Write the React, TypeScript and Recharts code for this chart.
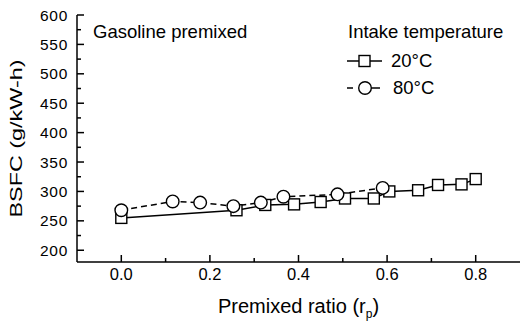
import { LineChart, Line, XAxis, YAxis, Legend, Label } from 'recharts'

// BSFC vs premixed ratio, two intake temperatures
const ratio20 = [0, 0.26, 0.325, 0.39, 0.45, 0.505, 0.57, 0.605, 0.67, 0.715, 0.768, 0.8]
const bsfc20 = [255, 268, 277, 278, 282, 288, 288, 300, 302, 311, 312, 321]
const ratio80 = [0, 0.116, 0.178, 0.253, 0.315, 0.366, 0.488, 0.59]
const bsfc80 = [268, 283, 281, 275, 281, 291, 295, 306]

const xTicks = [0, 0.1, 0.2, 0.3, 0.4, 0.5, 0.6, 0.7, 0.8]
const xLabels = [0, 0.2, 0.4, 0.6, 0.8]
const yTicks = [200, 225, 250, 275, 300, 325, 350, 375, 400, 425, 450, 475, 500, 525, 550, 575, 600]
const yLabels = [200, 250, 300, 350, 400, 450, 500, 550, 600]

const data20 = ratio20.map((r, i) => ({ r, bsfc: bsfc20[i] }))
const data80 = ratio80.map((r, i) => ({ r, bsfc: bsfc80[i] }))

const FONT = 'Liberation Sans, Arial, sans-serif'

function XTick({ x, y, payload }: any) {
  const major = xLabels.includes(payload.value)
  return (
    <g>
      <line x1={x} x2={x} y1={y} y2={y - (major ? 7 : 4)} stroke="#000" strokeWidth={1.5} />
      {major && (
        <text x={x} y={y + 18} textAnchor="middle" fontSize={16.5} fontFamily={FONT} fill="#000">
          {payload.value.toFixed(1)}
        </text>
      )}
    </g>
  )
}

function YTick({ x, y, payload }: any) {
  const major = yLabels.includes(payload.value)
  return (
    <g>
      <line x1={x} x2={x + (major ? 7 : 4)} y1={y} y2={y} stroke="#000" strokeWidth={1.5} />
      {major && (
        <text x={x - 9} y={y + 5.5} textAnchor="end" fontSize={15.5} letterSpacing={0.7} fontFamily={FONT} fill="#000">
          {payload.value}
        </text>
      )}
    </g>
  )
}

function Square({ cx, cy }: any) {
  if (cx == null || cy == null) return null
  return <rect x={cx - 5.5} y={cy - 5.5} width={11} height={11} fill="#fff" stroke="#000" strokeWidth={1.4} />
}

function Circle({ cx, cy }: any) {
  if (cx == null || cy == null) return null
  return <circle cx={cx} cy={cy} r={6.3} fill="#fff" stroke="#000" strokeWidth={1.4} />
}

function Overlay() {
  return (
    <svg width={521} height={324} style={{ pointerEvents: 'none' }}>
      <text x={93} y={38} fontSize={18.5} fontFamily={FONT} fill="#000">Gasoline premixed</text>
      <text x={348} y={38} fontSize={18.5} fontFamily={FONT} fill="#000">Intake temperature</text>
      <line x1={347} x2={382} y1={61} y2={61} stroke="#000" strokeWidth={1.5} />
      <rect x={359} y={55.5} width={11} height={11} fill="#fff" stroke="#000" strokeWidth={1.4} />
      <text x={391} y={67} fontSize={18.5} fontFamily={FONT} fill="#000">20°C</text>
      <line x1={347} x2={353} y1={88} y2={88} stroke="#000" strokeWidth={1.5} />
      <line x1={371} x2={380} y1={88} y2={88} stroke="#000" strokeWidth={1.5} />
      <circle cx={365} cy={88} r={6.3} fill="#fff" stroke="#000" strokeWidth={1.4} />
      <text x={393} y={94} fontSize={18.5} fontFamily={FONT} fill="#000">80°C</text>
    </svg>
  )
}

export default function App() {
  return (
    <div style={{ position: 'absolute', left: 0, top: 0, background: '#fff' }}>
      <LineChart width={521} height={324} margin={{ top: 15, right: 1, bottom: 0, left: 0 }}>
        <XAxis
          xAxisId="b"
          dataKey="r"
          type="number"
          domain={[-0.1, 0.9]}
          ticks={xTicks}
          height={62}
          tickSize={0}
          tickMargin={0}
          tickLine={false}
          tick={<XTick />}
          axisLine={{ stroke: '#000', strokeWidth: 1.5 }}
          allowDataOverflow
        >
          <Label
            content={({ viewBox }: any) => (
              <text
                x={viewBox.x + viewBox.width / 2}
                y={viewBox.y + 51}
                textAnchor="middle"
                fontSize={20}
                fontFamily={FONT}
                fill="#000"
              >
                Premixed ratio (r<tspan fontSize={12} dy={5}>p</tspan><tspan dy={-5}>)</tspan>
              </text>
            )}
          />
        </XAxis>
        <XAxis xAxisId="t" orientation="top" type="number" domain={[-0.1, 0.9]} height={0} tick={false} tickLine={false} axisLine={{ stroke: '#000', strokeWidth: 1.5 }} />
        <YAxis
          yAxisId="l"
          type="number"
          domain={[180, 600]}
          ticks={yTicks}
          width={77}
          tickSize={0}
          tickMargin={0}
          tickLine={false}
          tick={<YTick />}
          axisLine={{ stroke: '#000', strokeWidth: 1.5 }}
          interval={0}
          allowDataOverflow
        >
          <Label
            content={({ viewBox }: any) => {
              const cx = viewBox.x + 16
              const cy = viewBox.y + viewBox.height / 2
              return (
                <text
                  x={cx}
                  y={cy}
                  transform={`rotate(-90 ${cx} ${cy})`}
                  textAnchor="middle"
                  dominantBaseline="central"
                  fontSize={17}
                  textLength={158}
                  lengthAdjust="spacingAndGlyphs"
                  fontFamily={FONT}
                  fill="#000"
                >
                  BSFC (g/kW-h)
                </text>
              )
            }}
          />
        </YAxis>
        <YAxis yAxisId="r" orientation="right" type="number" domain={[180, 600]} width={0} tick={false} tickLine={false} axisLine={{ stroke: '#999', strokeWidth: 1 }} />
        <Line
          xAxisId="b"
          yAxisId="l"
          data={data20}
          dataKey="bsfc"
          type="linear"
          stroke="#000"
          strokeWidth={1.5}
          dot={<Square />}
          isAnimationActive={false}
        />
        <Line
          xAxisId="b"
          yAxisId="l"
          data={data80}
          dataKey="bsfc"
          type="linear"
          stroke="#000"
          strokeWidth={1.5}
          strokeDasharray="6 4"
          dot={<Circle />}
          isAnimationActive={false}
        />
        <Legend
          layout="vertical"
          align="center"
          verticalAlign="middle"
          content={() => <Overlay />}
          wrapperStyle={{ left: 0, top: 0, width: 521, height: 324 }}
        />
      </LineChart>
    </div>
  )
}
